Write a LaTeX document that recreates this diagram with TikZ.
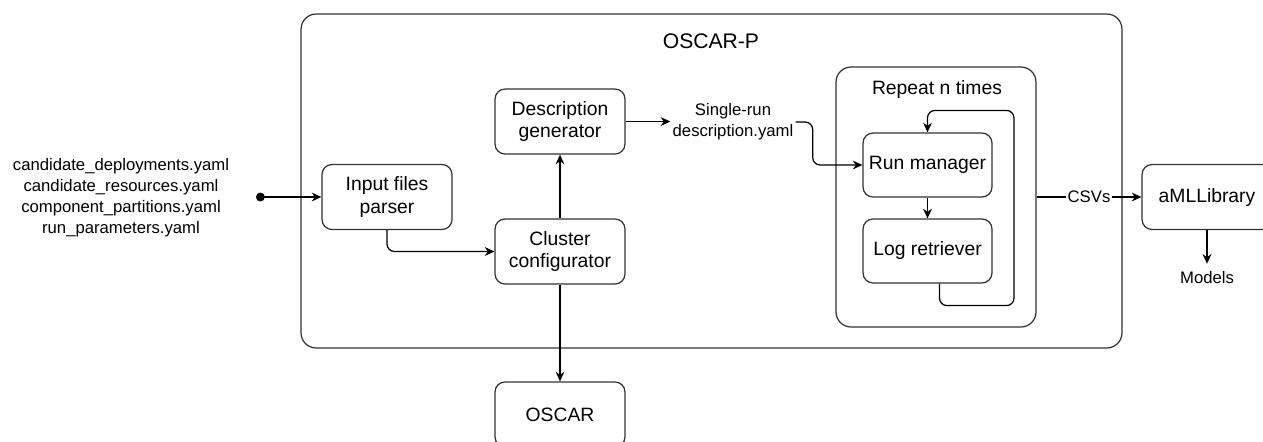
\documentclass[tikz,border=0pt]{standalone}
\usepackage{fontspec}
\setmainfont{Liberation Sans}
\usetikzlibrary{arrows.meta,positioning}

\begin{document}
\begin{tikzpicture}[x=0.02cm,y=-0.02cm]
	\useasboundingbox (0,0) rectangle (1263,441);
	\begin{scope}[line width=0.7pt,
		node distance=2.6cm,on grid,>={Stealth[length=5.5pt,width=5pt]},
		block/.style={rectangle,draw=black!80,rounded corners=0.2cm,minimum width=2.6cm,minimum height=1.3cm,align=center,font=\fontsize{11}{13}\selectfont},
		frame/.style={rectangle,draw=black!80,rounded corners=0.3cm},
		lbl/.style={align=center,inner sep=1pt,font=\fontsize{9.5}{12}\selectfont}]
		\node [frame,minimum width=16.42cm,minimum height=6.68cm]	(oscarp)	at (711.5,181)	{};
		\node [font=\fontsize{12}{14}\selectfont]	(title)	at (711,41)	{OSCAR-P};
		\node [frame,minimum width=4cm,minimum height=5.2cm]	(repeat)	at (936,197)	{};
		\node [font=\fontsize{11}{13}\selectfont]	(rtitle)	at (937,89)	{Repeat n times};
		\node [lbl]		(files)		at (121,198)	{candidate\_deployments.yaml\\candidate\_resources.yaml\\component\_partitions.yaml\\run\_parameters.yaml};
		\coordinate	(in)	at (256,197);
		\node [block]	(parser)	at (387,197)	{Input files\\parser};
		\node [block]	(cluster)	at (560,251.5)	{Cluster\\configurator};
		\node [block]	(desc)		[above=of cluster]	{Description\\generator};
		\node [block]	(oscar)		[below=3.26cm of cluster]	{OSCAR};
		\node [lbl]		(single)	at (733,122)	{Single-run\\description.yaml};
		\node [block,minimum width=2.58cm,minimum height=1.28cm]	(run)	at (927.5,165)	{Run manager};
		\node [block,minimum width=2.58cm,minimum height=1.28cm]	(log)	[below=1.72cm of run]	{Log retriever};
		\node [block]	(aml)		at (1207,197)	{aMLLibrary};
		\node [lbl,inner sep=0.15cm]	(models)	[below=1.62cm of aml]	{Models};
		\draw [{Circle[length=5pt]}->]	(in) -- (parser);
		\draw [->,rounded corners=0.15cm]	(parser.south) |- (cluster.west);
		\draw [->]	(cluster) -- (desc);
		\draw [->]	(cluster) -- (oscar);
		\draw [->]	(desc.east) -- (desc.east -| single.west);
		\draw [->,rounded corners=0.15cm]	(single.east) -- ++(0.34cm,0) |- (run.west);
		\draw [->]	(run) -- (log);
		\draw [->,rounded corners=0.15cm]	([xshift=0.24cm]log.south) -- ++(0,-0.44cm) -| ([xshift=1.73cm,yshift=0.44cm]run.north) -- ([yshift=0.44cm]run.north) -- (run.north);
		\draw [->]	(repeat.east) -- node [lbl,fill=white] {CSVs} (aml.west);
		\draw [->]	(aml.south) -- (models.north);
	\end{scope}
\end{tikzpicture}
\end{document}
